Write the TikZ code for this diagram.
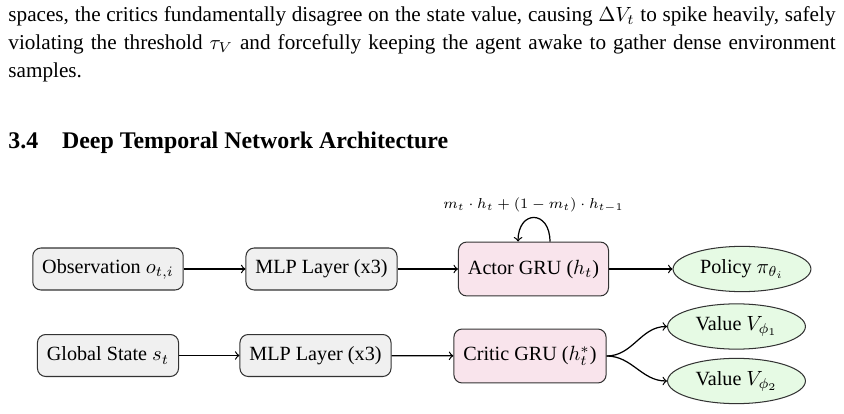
\documentclass[tikz,border=0pt]{standalone}
\usepackage{fontspec}
\setmainfont{Liberation Serif}
\usetikzlibrary{shapes.geometric,positioning}

\definecolor{inputfill}{RGB}{240,240,240}
\definecolor{grufill}{RGB}{249,228,236}
\definecolor{outfill}{RGB}{230,250,228}

\tikzset{
  inbox/.style={draw=black!80, fill=inputfill, rounded corners=4pt, line width=0.5pt,
    minimum height=20.4pt, inner xsep=4.6pt, font=\fontsize{9.8}{12}\selectfont},
  grubox/.style={inbox, fill=grufill, minimum height=26.2pt},
  outell/.style={ellipse, draw=black!80, fill=outfill, inner sep=1pt, line width=0.5pt,
    minimum width=67pt, minimum height=22pt, font=\fontsize{9.8}{12}\selectfont},
  flow/.style={->, black, line width=0.6pt}
}

\begin{document}
\begin{tikzpicture}[x=0.486pt, y=-0.486pt]
\useasboundingbox (0,0) rectangle (844,414);

% running text above the figure
\node[anchor=north west, inner sep=0pt, text width=402pt, align=justify,
  font=\fontsize{10.3}{13.6}\selectfont] (para) at (8,6.5)
  {spaces, the critics fundamentally disagree on the state value, causing $\Delta V_t$ to spike heavily, safely\linebreak
   violating the threshold $\tau_V$ and forcefully keeping the agent awake to gather dense environment\linebreak
   samples.};
\node[anchor=base west, inner sep=0pt, font=\fontsize{11.6}{14}\selectfont\bfseries] (sechead) at (8,148)
  {3.4\quad Deep Temporal Network Architecture};

% actor row
\node[inbox] (obs) at (108,269) {Observation $o_{t,i}$};
\node[inbox] (mlpa) at (321.5,269) {MLP Layer (x3)};
\node[grubox] (actor) at (533.5,269) {Actor GRU ($h_t$)};
\node[outell] (policy) at (742,269) {Policy $\pi_{\theta_i}$};

% critic row
\node[inbox] (state) at (108,355.5) {Global State $s_t$};
\node[inbox] (mlpc) at (315.5,355.5) {MLP Layer (x3)};
\node[grubox] (critic) at (530,356) {Critic GRU ($h_t^{*}$)};
\node[outell] (vone) at (736.5,326.5) {Value $V_{\phi_1}$};
\node[outell] (vtwo) at (736.5,381) {Value $V_{\phi_2}$};

% recurrence
\node[font=\fontsize{6.6}{8}\selectfont] (recur) at (533.5,205)
  {$m_t \cdot h_t + (1 - m_t) \cdot h_{t-1}$};
\draw[flow] ([xshift=8pt]actor.north) .. controls +(0,15.5pt) and +(0,15.5pt) .. ([xshift=-7.5pt]actor.north);

\draw[flow] (obs) -- (mlpa);
\draw[flow] (mlpa) -- (actor);
\draw[flow] (actor) -- (policy);
\draw[flow] (state) -- (mlpc);
\draw[flow] (mlpc) -- (critic);
\draw[flow] (critic.east) to[out=0, in=180] (vone.west);
\draw[flow] (critic.east) to[out=0, in=180] (vtwo.west);
\end{tikzpicture}
\end{document}
